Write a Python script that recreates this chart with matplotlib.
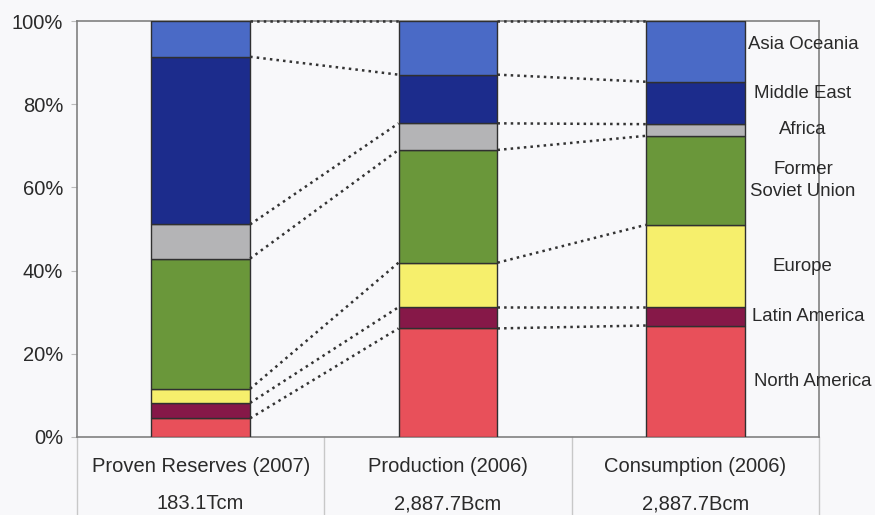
import matplotlib
matplotlib.use('Agg')
import matplotlib.pyplot as plt
import matplotlib.transforms as mtransforms
import numpy as np

plt.rcParams['font.family'] = ['Liberation Sans', 'DejaVu Sans']

# shares by region (%), bottom to top
regions = ['North America', 'Latin America', 'Europe', 'Former\nSoviet Union',
           'Africa', 'Middle East', 'Asia Oceania']
reserves = [4.5, 3.7, 3.4, 31.3, 8.2, 40.3, 8.6]
production = [26.1, 5.1, 10.7, 27.1, 6.4, 11.7, 12.9]
consumption = [26.8, 4.4, 19.8, 21.4, 2.8, 10.2, 14.6]

categories = ['Proven Reserves (2007)', 'Production (2006)', 'Consumption (2006)']
totals = ['183.1Tcm', '2,887.7Bcm', '2,887.7Bcm']

colors = ['#e8505a', '#861848', '#f6ef6c', '#6a973a', '#b4b4b6', '#1c2c8c', '#4a6ac6']

series = [reserves, production, consumption]
x = np.arange(len(categories)) + 0.5
w = 0.4

fig = plt.figure(figsize=(8.75, 5.15), dpi=100)
fig.patch.set_facecolor('#f8f8fa')
ax = fig.add_axes([77 / 875, 78 / 515, 742 / 875, 416 / 515])
ax.set_facecolor('#f8f8fa')

cums = []
for i, vals in enumerate(series):
    bottom = 0
    for v, c in zip(vals, colors):
        ax.bar(x[i], v, w, bottom=bottom, color=c, edgecolor='#303030',
               linewidth=1.0, zorder=3)
        bottom += v
    cums.append(np.cumsum(vals))

# dotted connectors between neighbouring bars
for i in range(len(series) - 1):
    for a, b in zip(cums[i], cums[i + 1]):
        ax.plot([x[i] + w / 2, x[i + 1] - w / 2], [a, b], linestyle=':',
                color='#333333', linewidth=1.8, zorder=4, clip_on=False)

ax.set_xlim(0, 3)
ax.set_ylim(0, 100)
ax.set_xticks([])
ax.set_yticks(range(0, 101, 20))
ax.set_yticklabels([f'{t}%' for t in range(0, 101, 20)], fontsize=14.5, color='#2a2a2a')
ax.tick_params(axis='y', length=4, color='#bbbbbb', pad=6)
for s in ax.spines.values():
    s.set_color('#808080')
    s.set_linewidth(1.2)

# region labels beside the last bar
ynudge = {'Asia Oceania': 1.7, 'Middle East': 2.2}
xnudge = {'North America': 0.04, 'Latin America': 0.02}
mids = cums[2] - np.array(consumption) / 2
for name, m in zip(regions, mids):
    ax.text(2.935 + xnudge.get(name, 0), m + ynudge.get(name, 0), name,
            ha='center', va='center', fontsize=13.4, color='#2a2a2a',
            clip_on=False, linespacing=1.4)

# table underneath
trans = mtransforms.blended_transform_factory(ax.transData, ax.transAxes)
for xv in [0, 1, 2, 3]:
    ax.plot([xv, xv], [0, -0.2], transform=trans, color='#c8c8c8',
            linewidth=1.0, clip_on=False)
for xi, cat, tot in zip(x, categories, totals):
    ax.text(xi, -0.072, cat, transform=trans, ha='center', va='center',
            fontsize=14.5, color='#2a2a2a')
    ax.text(xi, -0.161, tot, transform=trans, ha='center', va='center',
            fontsize=14.5, color='#2a2a2a')

fig.savefig('out.png', dpi=100, facecolor=fig.get_facecolor())
